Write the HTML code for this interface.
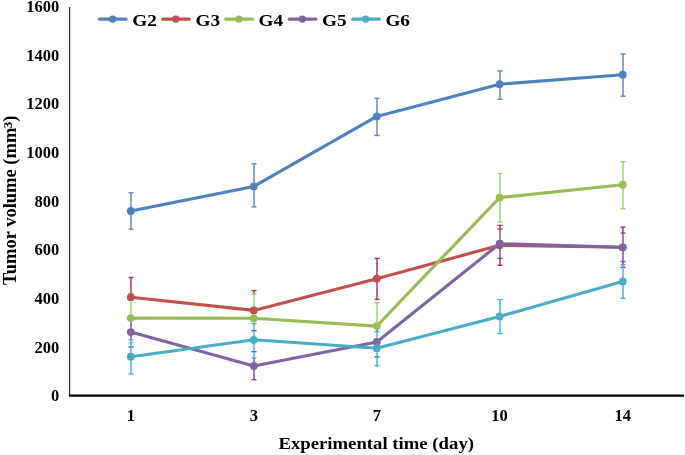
<!DOCTYPE html>
<html><head><meta charset="utf-8"><style>
html,body{margin:0;padding:0;background:#fff;width:685px;height:455px;overflow:hidden;}
svg{display:block;filter:blur(0.3px);}
text{font-family:"Liberation Serif", serif;font-weight:bold;fill:#000;}
</style></head><body>
<svg width="685" height="455" viewBox="0 0 685 455">
<rect width="685" height="455" fill="#fff"/>
<line x1="69.6" y1="7" x2="69.6" y2="396" stroke="#3a3a3a" stroke-width="1.3"/>
<line x1="69.0" y1="395.6" x2="684" y2="395.6" stroke="#000" stroke-width="2.2"/>
<text x="59.2" y="401.20" font-size="16.5" text-anchor="end">0</text>
<text x="59.2" y="352.55" font-size="16.5" text-anchor="end">200</text>
<text x="59.2" y="303.90" font-size="16.5" text-anchor="end">400</text>
<text x="59.2" y="255.25" font-size="16.5" text-anchor="end">600</text>
<text x="59.2" y="206.60" font-size="16.5" text-anchor="end">800</text>
<text x="59.2" y="157.95" font-size="16.5" text-anchor="end">1000</text>
<text x="59.2" y="109.30" font-size="16.5" text-anchor="end">1200</text>
<text x="59.2" y="60.65" font-size="16.5" text-anchor="end">1400</text>
<text x="59.2" y="12.00" font-size="16.5" text-anchor="end">1600</text>
<text x="130.8" y="420.8" font-size="16.5" text-anchor="middle">1</text>
<text x="253.8" y="420.8" font-size="16.5" text-anchor="middle">3</text>
<text x="376.8" y="420.8" font-size="16.5" text-anchor="middle">7</text>
<text x="499.6" y="420.8" font-size="16.5" text-anchor="middle">10</text>
<text x="622.7" y="420.8" font-size="16.5" text-anchor="middle">14</text>
<text transform="translate(376.2,448.8) scale(1.103,1)" font-size="17" text-anchor="middle">Experimental time (day)</text>
<text transform="translate(15.7,284.9) rotate(-90) scale(1.028,1)" x="0" y="0" font-size="18">Tumor volume (mm<tspan font-size="12.5" dy="-4.2" dx="-0.6">3</tspan><tspan dy="4.2">)</tspan></text>
<line x1="131.0" y1="192.80" x2="131.0" y2="229.20" stroke="#5A86CA" stroke-width="1.45"/>
<line x1="128.5" y1="192.8" x2="133.5" y2="192.8" stroke="#5A86CA" stroke-width="1.4"/>
<line x1="128.5" y1="229.2" x2="133.5" y2="229.2" stroke="#5A86CA" stroke-width="1.4"/>
<line x1="254.0" y1="163.80" x2="254.0" y2="206.90" stroke="#5A86CA" stroke-width="1.45"/>
<line x1="251.5" y1="163.8" x2="256.5" y2="163.8" stroke="#5A86CA" stroke-width="1.4"/>
<line x1="251.5" y1="206.9" x2="256.5" y2="206.9" stroke="#5A86CA" stroke-width="1.4"/>
<line x1="377.0" y1="98.30" x2="377.0" y2="135.50" stroke="#5A86CA" stroke-width="1.45"/>
<line x1="374.5" y1="98.3" x2="379.5" y2="98.3" stroke="#5A86CA" stroke-width="1.4"/>
<line x1="374.5" y1="135.5" x2="379.5" y2="135.5" stroke="#5A86CA" stroke-width="1.4"/>
<line x1="500.0" y1="71.00" x2="500.0" y2="99.20" stroke="#5A86CA" stroke-width="1.45"/>
<line x1="497.5" y1="71.0" x2="502.5" y2="71.0" stroke="#5A86CA" stroke-width="1.4"/>
<line x1="497.5" y1="99.2" x2="502.5" y2="99.2" stroke="#5A86CA" stroke-width="1.4"/>
<line x1="623.0" y1="54.00" x2="623.0" y2="96.20" stroke="#5A86CA" stroke-width="1.45"/>
<line x1="620.5" y1="54.0" x2="625.5" y2="54.0" stroke="#5A86CA" stroke-width="1.4"/>
<line x1="620.5" y1="96.2" x2="625.5" y2="96.2" stroke="#5A86CA" stroke-width="1.4"/>
<line x1="131.0" y1="277.50" x2="131.0" y2="293.40" stroke="#B42A5A" stroke-width="1.45"/>
<line x1="128.5" y1="277.5" x2="133.5" y2="277.5" stroke="#B42A5A" stroke-width="1.4"/>
<line x1="128.5" y1="316.9" x2="133.5" y2="316.9" stroke="#B42A5A" stroke-width="1.4"/>
<line x1="254.0" y1="290.60" x2="254.0" y2="294.10" stroke="#B42A5A" stroke-width="1.45"/>
<line x1="251.5" y1="290.6" x2="256.5" y2="290.6" stroke="#B42A5A" stroke-width="1.4"/>
<line x1="251.5" y1="330.6" x2="256.5" y2="330.6" stroke="#B42A5A" stroke-width="1.4"/>
<line x1="377.0" y1="258.40" x2="377.0" y2="299.40" stroke="#B42A5A" stroke-width="1.45"/>
<line x1="374.5" y1="258.4" x2="379.5" y2="258.4" stroke="#B42A5A" stroke-width="1.4"/>
<line x1="374.5" y1="299.4" x2="379.5" y2="299.4" stroke="#B42A5A" stroke-width="1.4"/>
<line x1="500.0" y1="225.40" x2="500.0" y2="229.10" stroke="#B42A5A" stroke-width="1.45"/>
<line x1="500.0" y1="258.40" x2="500.0" y2="265.20" stroke="#B42A5A" stroke-width="1.45"/>
<line x1="497.5" y1="225.4" x2="502.5" y2="225.4" stroke="#B42A5A" stroke-width="1.4"/>
<line x1="497.5" y1="265.2" x2="502.5" y2="265.2" stroke="#B42A5A" stroke-width="1.4"/>
<line x1="623.0" y1="227.10" x2="623.0" y2="233.10" stroke="#B42A5A" stroke-width="1.45"/>
<line x1="623.0" y1="261.50" x2="623.0" y2="264.80" stroke="#B42A5A" stroke-width="1.45"/>
<line x1="620.5" y1="227.1" x2="625.5" y2="227.1" stroke="#B42A5A" stroke-width="1.4"/>
<line x1="620.5" y1="267.4" x2="625.5" y2="267.4" stroke="#B42A5A" stroke-width="1.4"/>
<line x1="131.0" y1="293.40" x2="131.0" y2="317.20" stroke="#98D468" stroke-width="1.45"/>
<line x1="128.5" y1="293.4" x2="133.5" y2="293.4" stroke="#98D468" stroke-width="1.4"/>
<line x1="128.5" y1="342.8" x2="133.5" y2="342.8" stroke="#98D468" stroke-width="1.4"/>
<line x1="254.0" y1="294.10" x2="254.0" y2="323.60" stroke="#98D468" stroke-width="1.45"/>
<line x1="251.5" y1="294.1" x2="256.5" y2="294.1" stroke="#98D468" stroke-width="1.4"/>
<line x1="251.5" y1="342.5" x2="256.5" y2="342.5" stroke="#98D468" stroke-width="1.4"/>
<line x1="377.0" y1="302.60" x2="377.0" y2="327.10" stroke="#98D468" stroke-width="1.45"/>
<line x1="374.5" y1="302.6" x2="379.5" y2="302.6" stroke="#98D468" stroke-width="1.4"/>
<line x1="374.5" y1="349.6" x2="379.5" y2="349.6" stroke="#98D468" stroke-width="1.4"/>
<line x1="500.0" y1="173.60" x2="500.0" y2="222.10" stroke="#98D468" stroke-width="1.45"/>
<line x1="497.5" y1="173.6" x2="502.5" y2="173.6" stroke="#98D468" stroke-width="1.4"/>
<line x1="497.5" y1="222.1" x2="502.5" y2="222.1" stroke="#98D468" stroke-width="1.4"/>
<line x1="623.0" y1="161.60" x2="623.0" y2="208.70" stroke="#98D468" stroke-width="1.45"/>
<line x1="620.5" y1="161.6" x2="625.5" y2="161.6" stroke="#98D468" stroke-width="1.4"/>
<line x1="620.5" y1="208.7" x2="625.5" y2="208.7" stroke="#98D468" stroke-width="1.4"/>
<line x1="131.0" y1="317.20" x2="131.0" y2="339.80" stroke="#8444B0" stroke-width="1.45"/>
<line x1="128.5" y1="317.2" x2="133.5" y2="317.2" stroke="#8444B0" stroke-width="1.4"/>
<line x1="128.5" y1="347.0" x2="133.5" y2="347.0" stroke="#8444B0" stroke-width="1.4"/>
<line x1="254.0" y1="357.90" x2="254.0" y2="379.70" stroke="#8444B0" stroke-width="1.45"/>
<line x1="251.5" y1="351.7" x2="256.5" y2="351.7" stroke="#8444B0" stroke-width="1.4"/>
<line x1="251.5" y1="379.7" x2="256.5" y2="379.7" stroke="#8444B0" stroke-width="1.4"/>
<line x1="377.0" y1="327.10" x2="377.0" y2="331.70" stroke="#8444B0" stroke-width="1.45"/>
<line x1="374.5" y1="327.1" x2="379.5" y2="327.1" stroke="#8444B0" stroke-width="1.4"/>
<line x1="374.5" y1="356.9" x2="379.5" y2="356.9" stroke="#8444B0" stroke-width="1.4"/>
<line x1="500.0" y1="229.10" x2="500.0" y2="258.40" stroke="#8444B0" stroke-width="1.45"/>
<line x1="497.5" y1="229.1" x2="502.5" y2="229.1" stroke="#8444B0" stroke-width="1.4"/>
<line x1="497.5" y1="258.4" x2="502.5" y2="258.4" stroke="#8444B0" stroke-width="1.4"/>
<line x1="623.0" y1="233.10" x2="623.0" y2="261.50" stroke="#8444B0" stroke-width="1.45"/>
<line x1="620.5" y1="233.1" x2="625.5" y2="233.1" stroke="#8444B0" stroke-width="1.4"/>
<line x1="620.5" y1="261.5" x2="625.5" y2="261.5" stroke="#8444B0" stroke-width="1.4"/>
<line x1="131.0" y1="339.80" x2="131.0" y2="373.90" stroke="#38B2E6" stroke-width="1.45"/>
<line x1="128.5" y1="339.8" x2="133.5" y2="339.8" stroke="#38B2E6" stroke-width="1.4"/>
<line x1="128.5" y1="373.9" x2="133.5" y2="373.9" stroke="#38B2E6" stroke-width="1.4"/>
<line x1="254.0" y1="323.60" x2="254.0" y2="357.90" stroke="#38B2E6" stroke-width="1.45"/>
<line x1="251.5" y1="323.6" x2="256.5" y2="323.6" stroke="#38B2E6" stroke-width="1.4"/>
<line x1="251.5" y1="357.9" x2="256.5" y2="357.9" stroke="#38B2E6" stroke-width="1.4"/>
<line x1="377.0" y1="331.70" x2="377.0" y2="365.70" stroke="#38B2E6" stroke-width="1.45"/>
<line x1="374.5" y1="331.7" x2="379.5" y2="331.7" stroke="#38B2E6" stroke-width="1.4"/>
<line x1="374.5" y1="365.7" x2="379.5" y2="365.7" stroke="#38B2E6" stroke-width="1.4"/>
<line x1="500.0" y1="299.50" x2="500.0" y2="333.60" stroke="#38B2E6" stroke-width="1.45"/>
<line x1="497.5" y1="299.5" x2="502.5" y2="299.5" stroke="#38B2E6" stroke-width="1.4"/>
<line x1="497.5" y1="333.6" x2="502.5" y2="333.6" stroke="#38B2E6" stroke-width="1.4"/>
<line x1="623.0" y1="264.80" x2="623.0" y2="298.30" stroke="#38B2E6" stroke-width="1.45"/>
<line x1="620.5" y1="264.8" x2="625.5" y2="264.8" stroke="#38B2E6" stroke-width="1.4"/>
<line x1="620.5" y1="298.3" x2="625.5" y2="298.3" stroke="#38B2E6" stroke-width="1.4"/>
<polyline points="130.8,211.0 253.8,186.4 376.8,116.4 499.6,84.2 622.7,74.7" fill="none" stroke="#4F81BD" stroke-width="3.1" stroke-linejoin="round"/>
<circle cx="130.8" cy="211.0" r="3.9" fill="#4F81BD"/>
<circle cx="253.8" cy="186.4" r="3.9" fill="#4F81BD"/>
<circle cx="376.8" cy="116.4" r="3.9" fill="#4F81BD"/>
<circle cx="499.6" cy="84.2" r="3.9" fill="#4F81BD"/>
<circle cx="622.7" cy="74.7" r="3.9" fill="#4F81BD"/>
<polyline points="130.8,297.2 253.8,310.4 376.8,278.7 499.6,245.3 622.7,247.3" fill="none" stroke="#C0504D" stroke-width="3.1" stroke-linejoin="round"/>
<circle cx="130.8" cy="297.2" r="3.9" fill="#C0504D"/>
<circle cx="253.8" cy="310.4" r="3.9" fill="#C0504D"/>
<circle cx="376.8" cy="278.7" r="3.9" fill="#C0504D"/>
<circle cx="499.6" cy="245.3" r="3.9" fill="#C0504D"/>
<circle cx="622.7" cy="247.3" r="3.9" fill="#C0504D"/>
<polyline points="130.8,318.1 253.8,318.3 376.8,326.1 499.6,197.6 622.7,184.7" fill="none" stroke="#9BBB59" stroke-width="3.1" stroke-linejoin="round"/>
<circle cx="130.8" cy="318.1" r="3.9" fill="#9BBB59"/>
<circle cx="253.8" cy="318.3" r="3.9" fill="#9BBB59"/>
<circle cx="376.8" cy="326.1" r="3.9" fill="#9BBB59"/>
<circle cx="499.6" cy="197.6" r="3.9" fill="#9BBB59"/>
<circle cx="622.7" cy="184.7" r="3.9" fill="#9BBB59"/>
<polyline points="130.8,332.1 253.8,365.9 376.8,342.0 499.6,243.7 622.7,247.3" fill="none" stroke="#8064A2" stroke-width="3.1" stroke-linejoin="round"/>
<circle cx="130.8" cy="332.1" r="3.9" fill="#8064A2"/>
<circle cx="253.8" cy="365.9" r="3.9" fill="#8064A2"/>
<circle cx="376.8" cy="342.0" r="3.9" fill="#8064A2"/>
<circle cx="499.6" cy="243.7" r="3.9" fill="#8064A2"/>
<circle cx="622.7" cy="247.3" r="3.9" fill="#8064A2"/>
<polyline points="130.8,356.7 253.8,339.8 376.8,348.2 499.6,316.4 622.7,281.4" fill="none" stroke="#4BACC6" stroke-width="3.1" stroke-linejoin="round"/>
<circle cx="130.8" cy="356.7" r="3.9" fill="#4BACC6"/>
<circle cx="253.8" cy="339.8" r="3.9" fill="#4BACC6"/>
<circle cx="376.8" cy="348.2" r="3.9" fill="#4BACC6"/>
<circle cx="499.6" cy="316.4" r="3.9" fill="#4BACC6"/>
<circle cx="622.7" cy="281.4" r="3.9" fill="#4BACC6"/>
<line x1="99.6" y1="19.2" x2="126.0" y2="19.2" stroke="#4F81BD" stroke-width="3.3" stroke-linecap="round"/>
<circle cx="112.6" cy="19.1" r="3.7" fill="#4F81BD"/>
<text transform="translate(132.3,26.4) scale(1.10,1)" font-size="17.5">G2</text>
<line x1="162.8" y1="19.2" x2="189.20000000000002" y2="19.2" stroke="#C0504D" stroke-width="3.3" stroke-linecap="round"/>
<circle cx="175.8" cy="19.1" r="3.7" fill="#C0504D"/>
<text transform="translate(195.5,26.4) scale(1.10,1)" font-size="17.5">G3</text>
<line x1="225.9" y1="19.2" x2="252.3" y2="19.2" stroke="#9BBB59" stroke-width="3.3" stroke-linecap="round"/>
<circle cx="238.9" cy="19.1" r="3.7" fill="#9BBB59"/>
<text transform="translate(258.6,26.4) scale(1.10,1)" font-size="17.5">G4</text>
<line x1="289.3" y1="19.2" x2="315.7" y2="19.2" stroke="#8064A2" stroke-width="3.3" stroke-linecap="round"/>
<circle cx="302.3" cy="19.1" r="3.7" fill="#8064A2"/>
<text transform="translate(322.0,26.4) scale(1.10,1)" font-size="17.5">G5</text>
<line x1="352.7" y1="19.2" x2="379.09999999999997" y2="19.2" stroke="#4BACC6" stroke-width="3.3" stroke-linecap="round"/>
<circle cx="365.7" cy="19.1" r="3.7" fill="#4BACC6"/>
<text transform="translate(385.4,26.4) scale(1.10,1)" font-size="17.5">G6</text>
</svg></body></html>
